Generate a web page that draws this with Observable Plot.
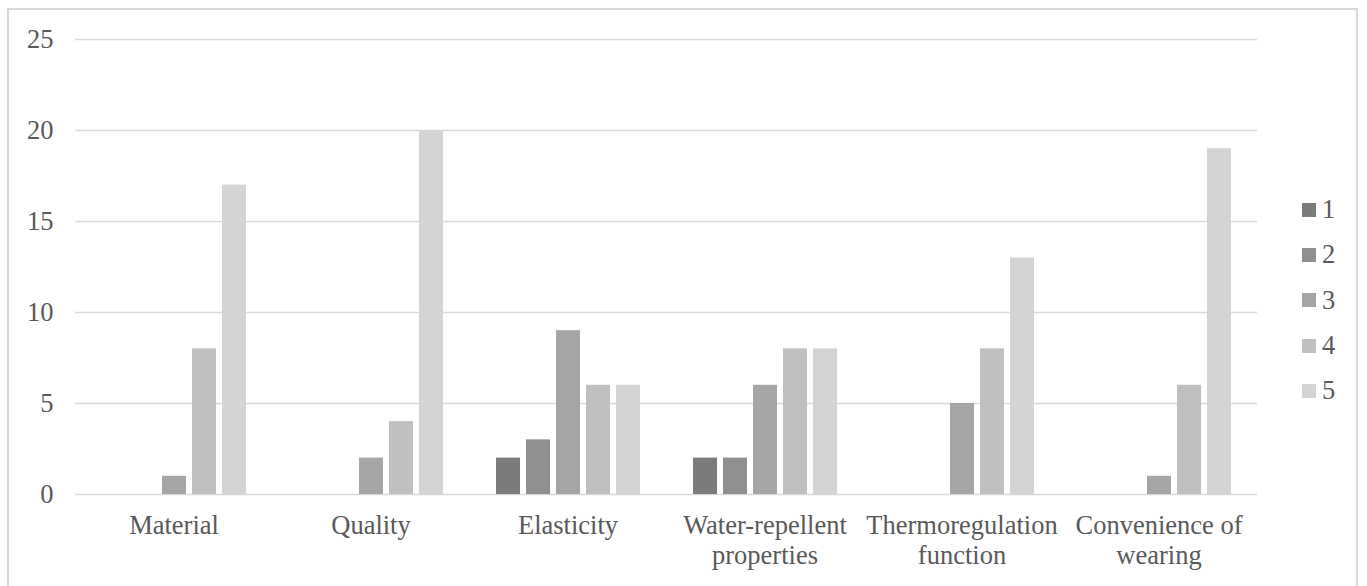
<!DOCTYPE html>
<html>
<head>
<meta charset="utf-8">
<script src="https://cdn.jsdelivr.net/npm/d3@7"></script>
<script src="https://cdn.jsdelivr.net/npm/@observablehq/plot@0.6"></script>
<style>
  html, body { margin: 0; padding: 0; background: #fff; }
  #wrap { position: relative; width: 1367px; height: 586px; overflow: hidden; }
  #frame { position: absolute; left: 7px; top: 8px; width: 1351px; height: 600px; border: 2px solid #d9d9d9; box-sizing: border-box; pointer-events: none; }
  #chart { position: absolute; left: 0; top: 0; }
  #legend { position: absolute; left: 1302px; top: 187px; font-size: 26.5px; color: #595959; }
  #legend .item { display: flex; align-items: center; height: 45.3px; }
  #legend .sw { width: 14px; height: 14px; margin-right: 6px; }
</style>
</head>
<body>
<div id="wrap">
  <div id="chart"></div>
  <div id="legend"></div>
  <div id="frame"></div>
</div>
<script>
// Product attributes rated on a 1–5 scale: number of responses per rating
const categories = ["Material", "Quality", "Elasticity", "Water-repellent properties", "Thermoregulation function", "Convenience of wearing"];
const categoryLabels = ["Material", "Quality", "Elasticity", "Water-repellent\nproperties", "Thermoregulation\nfunction", "Convenience of\nwearing"];
const ratings = ["1", "2", "3", "4", "5"];
const rating1 = [0, 0, 2, 2, 0, 0];
const rating2 = [0, 0, 3, 2, 0, 0];
const rating3 = [1, 2, 9, 6, 5, 1];
const rating4 = [8, 4, 6, 8, 8, 6];
const rating5 = [17, 20, 6, 8, 13, 19];
const yTicks = [0, 5, 10, 15, 20, 25];
const colors = ["#7b7b7b", "#8f8f8f", "#a5a5a5", "#bfbfbf", "#d4d4d4"];

const serifFont = `"Liberation Serif", "Times New Roman", serif`;

const seriesValues = [rating1, rating2, rating3, rating4, rating5];
const rows = [];
categories.forEach((c, i) => {
  ratings.forEach((r, j) => {
    rows.push({category: c, rating: r, value: seriesValues[j][i]});
  });
});

const labelOf = new Map(categories.map((c, i) => [c, categoryLabels[i]]));

const chart = Plot.plot({
  width: 1367,
  height: 586,
  marginLeft: 74,
  marginRight: 109,
  marginTop: 39,
  marginBottom: 92,
  style: {fontSize: "26.5px", color: "#595959", background: "transparent"},
  fx: {domain: categories, padding: 0},
  x: {domain: ratings, paddingInner: 0.21, paddingOuter: 0.84, axis: null},
  y: {domain: [0, 25], ticks: yTicks},
  color: {domain: ratings, range: colors},
  marks: [
    Plot.gridY(yTicks, {stroke: "#d9d9d9", strokeOpacity: 1, strokeWidth: 1.5, facetAnchor: null}),
    Plot.rectY(rows.filter(d => d.value > 0), {fx: "category", x: "rating", y: "value", fill: "rating"}),
    Plot.axisY(yTicks, {tickSize: 0, tickPadding: 22, fontSize: 26.5, fontFamily: serifFont, fill: "#595959", label: null}),
    Plot.axisFx({anchor: "bottom", tickSize: 0, tickPadding: 18, fontSize: 26.5, fontFamily: serifFont, fill: "#595959", label: null, lineHeight: 1.13, tickFormat: d => labelOf.get(d)})
  ]
});
d3.select(chart).style("font-family", serifFont);
document.getElementById("chart").appendChild(chart);

// Legend, one swatch per rating
const legend = d3.select("#legend").style("font-family", serifFont);
ratings.forEach((r, j) => {
  const item = legend.append("div").attr("class", "item");
  item.append("div").attr("class", "sw").style("background", colors[j]);
  item.append("span").text(r);
});
</script>
</body>
</html>
